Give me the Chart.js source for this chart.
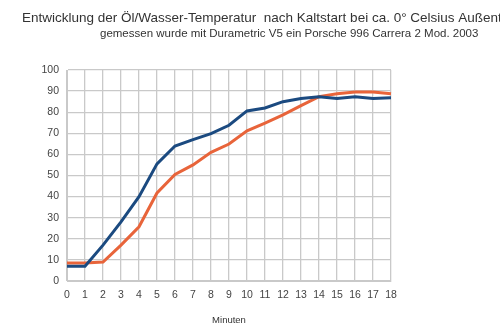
<!DOCTYPE html>
<html><head><meta charset="utf-8">
<script src="https://cdn.jsdelivr.net/npm/chart.js@4/dist/chart.umd.min.js"></script>
<style>html,body{margin:0;padding:0;background:#fff}#wrap{width:500px;height:335px}</style>
</head><body><div id="wrap"><canvas id="c" width="500" height="335"></canvas></div>
<script>
const minutes = ['0','1','2','3','4','5','6','7','8','9','10','11','12','13','14','15','16','17','18'];
const oilTemp = [7, 7, 17, 28, 40, 55.5, 64, 67, 69.8, 73.8, 80.6, 82, 85, 86.5, 87.3, 86.5, 87.3, 86.5, 86.8];
const waterTemp = [8.5, 8.5, 9, 17, 25.7, 41.7, 50.5, 55, 61, 64.9, 71.2, 74.8, 78.7, 83.1, 87.4, 88.7, 89.6, 89.6, 88.8];
const titleText = 'Entwicklung der Öl/Wasser-Temperatur  nach Kaltstart bei ca. 0° Celsius Außentemperatur';
const subtitleText = 'gemessen wurde mit Durametric V5 ein Porsche 996 Carrera 2 Mod. 2003';
const xTitle = 'Minuten';

const titlePlugin = {
  id: 'titles',
  afterDraw(chart) {
    const ctx = chart.ctx;
    ctx.save();
    ctx.fillStyle = '#333';
    ctx.textBaseline = 'middle';
    ctx.textAlign = 'left';
    ctx.font = '13.5px "Liberation Sans", Arial, sans-serif';
    ctx.fillText(titleText, 22, 18);
    ctx.font = '11.5px "Liberation Sans", Arial, sans-serif';
    ctx.fillText(subtitleText, 100, 34, 383);
    ctx.restore();
  }
};

new Chart(document.getElementById('c'), {
  type: 'line',
  data: {
    labels: minutes,
    datasets: [
      { label: 'Öl', data: oilTemp, borderColor: '#1b4a80', borderWidth: 3, pointRadius: 0, tension: 0 },
      { label: 'Wasser', data: waterTemp, borderColor: '#e8643a', borderWidth: 3, pointRadius: 0, tension: 0 }
    ]
  },
  options: {
    responsive: false,
    animation: false,
    layout: { padding: { left: 0, right: 109, top: 70, bottom: 0 } },
    plugins: { legend: { display: false }, title: { display: false }, tooltip: { enabled: false } },
    scales: {
      x: {
        offset: false,
        grid: { color: '#c9c9c9', lineWidth: 1.3, drawTicks: false },
        border: { color: '#c9c9c9' },
        ticks: { color: '#444', font: { family: '"Liberation Sans", Arial, sans-serif', size: 10.5 }, padding: 8, maxRotation: 0, autoSkip: false },
        title: { display: true, text: xTitle, color: '#333', font: { family: '"Liberation Sans", Arial, sans-serif', size: 9.5 }, padding: { top: 0, bottom: 9 } },
        afterFit(scale) { scale.height = 54; }
      },
      y: {
        min: 0, max: 100,
        grid: { color: '#c9c9c9', lineWidth: 1.3, drawTicks: false },
        border: { color: '#c9c9c9' },
        ticks: { stepSize: 10, color: '#444', font: { family: '"Liberation Sans", Arial, sans-serif', size: 10.5 }, padding: 8 },
        afterFit(scale) { scale.width = 67; }
      }
    }
  },
  plugins: [titlePlugin]
});
</script></body></html>
